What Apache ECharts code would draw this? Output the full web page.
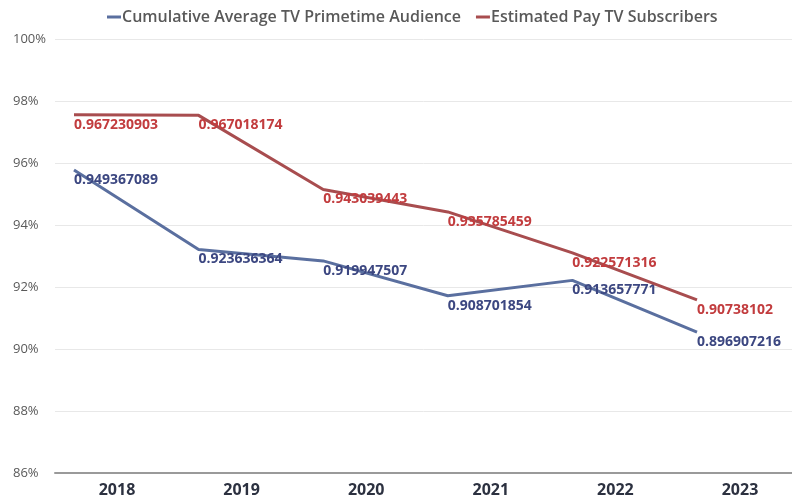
<!DOCTYPE html>
<html>
<head>
<meta charset="utf-8">
<script src="https://cdn.jsdelivr.net/npm/echarts@6/dist/echarts.min.js"></script>
<style>
  html, body { margin: 0; padding: 0; background: #ffffff; }
  #chart { width: 792px; height: 498px; }
</style>
</head>
<body>
<div id="chart"></div>
<script>
// Years on the category axis
const years = ['2018', '2019', '2020', '2021', '2022', '2023'];

// Share of the 2017 level, per year
const primetimeAudience = [0.949367089, 0.923636364, 0.919947507, 0.908701854, 0.913657771, 0.896907216];
const payTvSubscribers = [0.967230903, 0.967018174, 0.943039443, 0.935785459, 0.922571316, 0.90738102];

// Percent gridlines of the value axis
const percentMin = 0.86;
const percentMax = 1.0;
const percentStep = 0.02;

// The plotted lines sit slightly above the printed gridlines
const lineAxisShift = 0.0083;

const seriesNames = ['Cumulative Average TV Primetime Audience', 'Estimated Pay TV Subscribers'];
const lineColors = ['#5a6f9f', '#a84d4f'];
const labelColors = ['#3c4781', '#c23c3e'];

const chart = echarts.init(document.getElementById('chart'), null, { renderer: 'canvas' });

function lineSeries(idx, values) {
  return {
    name: seriesNames[idx],
    type: 'line',
    xAxisIndex: 1,
    yAxisIndex: 1,
    data: values,
    symbol: 'circle',
    symbolSize: 0.1,
    showSymbol: true,
    itemStyle: { color: lineColors[idx] },
    lineStyle: { color: lineColors[idx], width: 3 },
    emphasis: { disabled: true },
    z: 3 + idx,
    label: {
      show: true,
      position: [0, 0],
      align: 'left',
      verticalAlign: 'middle',
      offset: [0, 10],
      formatter: p => String(p.value),
      color: labelColors[idx],
      fontFamily: 'Open Sans',
      fontWeight: 'bold',
      fontSize: 14
    }
  };
}

chart.setOption({
  animation: false,
  backgroundColor: '#ffffff',
  color: lineColors,
  legend: {
    data: seriesNames.map((n, i) => ({ name: n, itemStyle: { color: lineColors[i], opacity: 1 } })),
    left: 102,
    top: 4,
    icon: 'rect',
    itemWidth: 14,
    itemHeight: 3,
    itemGap: 15,
    textStyle: { fontFamily: 'Open Sans', fontSize: 16, fontWeight: 600, color: '#595959', padding: [0, 0, 0, -4] }
  },
  grid: [
    { left: 55, right: 0, top: 39, bottom: 25 },
    { left: 74, right: 95, top: 39, bottom: 25 }
  ],
  xAxis: [
    {
      gridIndex: 0,
      type: 'value',
      min: 0,
      max: 1,
      axisLine: { show: true, onZero: false, lineStyle: { color: '#9a9a9a', width: 2 } },
      axisTick: { show: false },
      axisLabel: { show: false },
      splitLine: { show: false }
    },
    {
      gridIndex: 1,
      type: 'category',
      data: years,
      boundaryGap: false,
      axisLine: { show: false },
      axisTick: { show: false },
      axisLabel: {
        margin: 10,
        padding: [0, 0, 0, 86],
        fontFamily: 'Open Sans',
        fontWeight: 'bold',
        fontSize: 16,
        color: '#2c3140'
      },
      splitLine: { show: false }
    }
  ],
  yAxis: [
    {
      gridIndex: 0,
      type: 'value',
      min: percentMin,
      max: percentMax,
      interval: percentStep,
      axisLine: { show: false },
      axisTick: { show: false },
      axisLabel: {
        align: 'left',
        margin: 42,
        fontFamily: 'Open Sans',
        fontSize: 13,
        color: '#595959',
        formatter: v => Math.round(v * 100) + '%'
      },
      splitLine: { lineStyle: { color: '#e8e8e8', width: 1 } }
    },
    {
      gridIndex: 1,
      type: 'value',
      min: percentMin - lineAxisShift,
      max: percentMax - lineAxisShift,
      show: false,
      splitLine: { show: false }
    }
  ],
  series: [
    lineSeries(0, primetimeAudience),
    lineSeries(1, payTvSubscribers)
  ]
});
</script>
</body>
</html>
